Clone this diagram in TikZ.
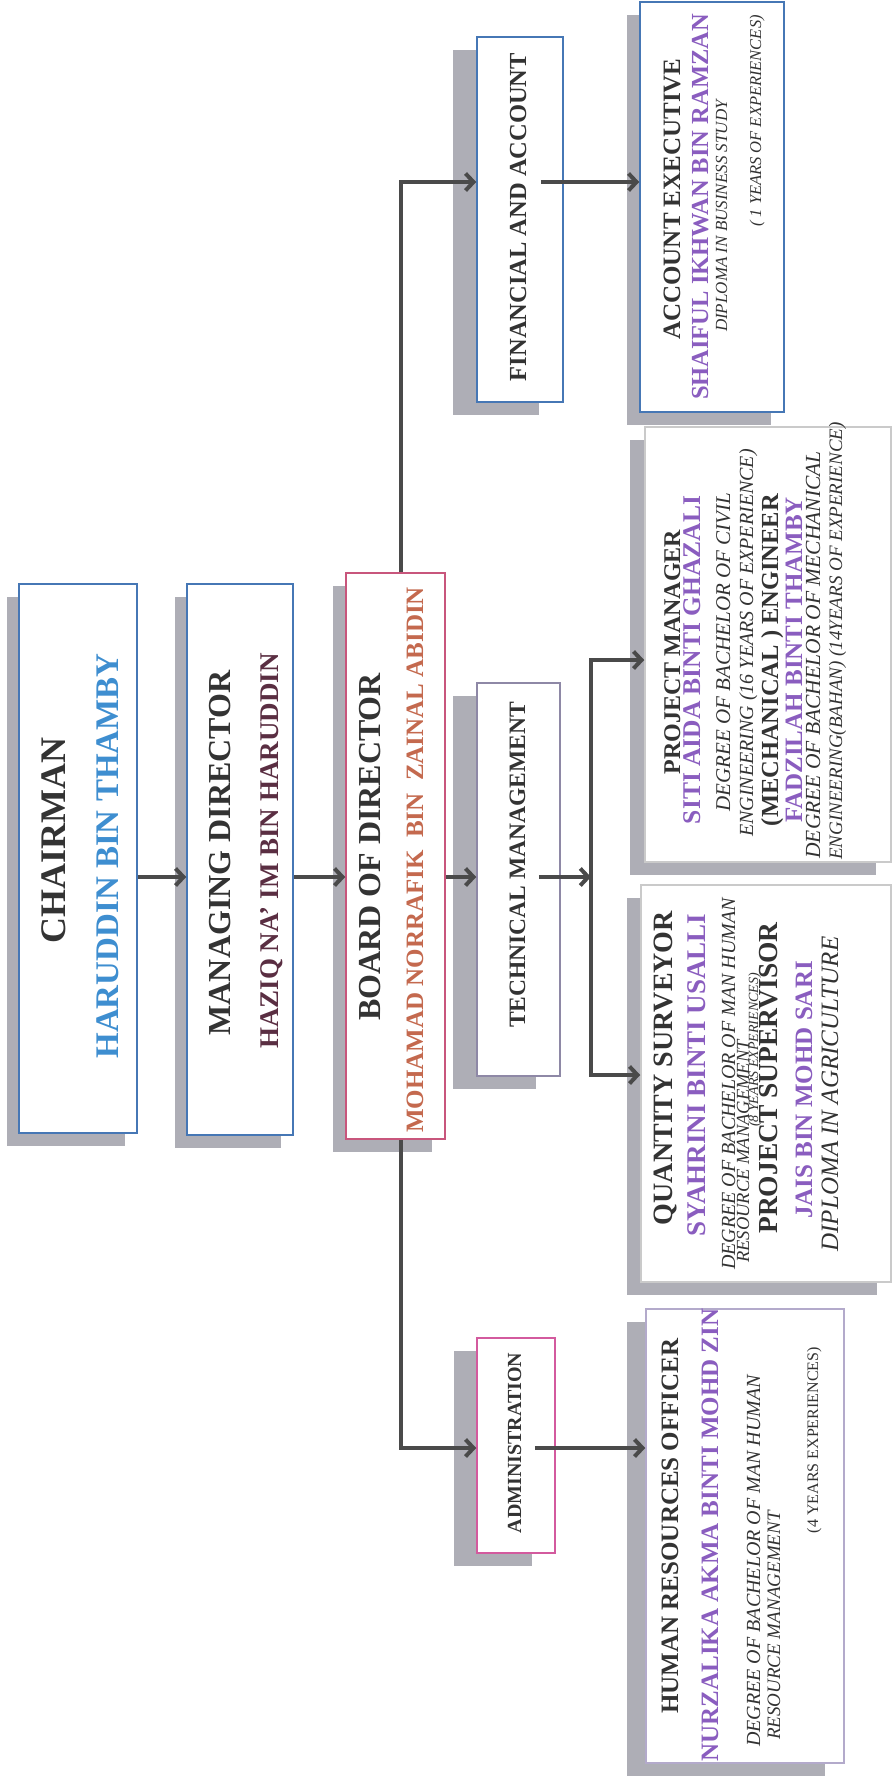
\documentclass[tikz,border=0pt]{standalone}
\usepackage{fontspec}
\setmainfont{Liberation Serif}
\usepackage{xcolor}
\usepackage{tikz}
\usetikzlibrary{arrows.meta, shadows}

\definecolor{ttl}{HTML}{333333}
\definecolor{blu}{HTML}{3E8ED0}
\definecolor{plum}{HTML}{5A2E42}
\definecolor{rust}{HTML}{C4694E}
\definecolor{purp}{HTML}{8A5DBF}
\definecolor{shd}{HTML}{AEAEB6}
\definecolor{arrg}{HTML}{4A4A4A}
\definecolor{bblue}{HTML}{4677B5}
\definecolor{bpink}{HTML}{C8567C}
\definecolor{bmag}{HTML}{D35A9E}
\definecolor{bgrey}{HTML}{8E88A6}
\definecolor{blite}{HTML}{CACACA}
\definecolor{blav}{HTML}{B3AACB}

\newcommand{\fsz}[1]{\fontsize{#1}{#1}\selectfont}

\begin{document}
\begin{tikzpicture}[x=1pt,y=-1pt,>={Straight Barb[length=8pt,width=17pt]},
    box/.style={draw=#1, line width=1.5pt, fill=white, inner sep=0pt},
    dropsh/.style={general shadow={fill=shd, shadow xshift=-#1, shadow yshift=-13pt}},
    txt/.style={rotate=90, inner sep=0pt, anchor=base, text=ttl},
    hd/.style={txt, font=\fsz{#1}\bfseries},
    it/.style={txt, font=\fsz{#1}\itshape},
    arr/.style={->, draw=arrg, line width=4pt}]
    \useasboundingbox (0,0) rectangle (893,1781);

    \node[box=bblue, dropsh=12pt, minimum width=118pt, minimum height=549pt] (chair) at (78,858.5) {};
    \node[box=bblue, dropsh=12pt, minimum width=106pt, minimum height=551pt] (md) at (240,859.5) {};
    \node[box=bpink, dropsh=13pt, minimum width=99pt, minimum height=566pt] (board) at (395.5,856) {};
    \node[box=bblue, dropsh=24pt, minimum width=86pt, minimum height=365pt] (fin) at (520,219.5) {};
    \node[box=bgrey, dropsh=24pt, minimum width=83pt, minimum height=393pt] (tech) at (518.5,879.5) {};
    \node[box=bmag, dropsh=23pt, minimum width=78pt, minimum height=215pt] (adm) at (516,1445.5) {};
    \node[box=bblue, dropsh=13pt, minimum width=144pt, minimum height=410pt] (acc) at (712,207) {};
    \node[box=blite, dropsh=15pt, minimum width=246pt, minimum height=435pt] (pm) at (768,644.5) {};
    \node[box=blite, dropsh=14pt, minimum width=250pt, minimum height=397pt] (qs) at (766,1083.5) {};
    \node[box=blav, dropsh=19pt, minimum width=198pt, minimum height=454pt] (hr) at (745,1536) {};

    \node[hd=36] (chairA) at (65,840) {CHAIRMAN};
    \node[hd=33, text=blu] (chairB) at (118,856) {HARUDDIN BIN THAMBY};
    \node[hd=32] (mdA) at (230,853) {MANAGING DIRECTOR};
    \node[hd=27, text=plum] (mdB) at (278,851) {HAZIQ NA' IM BIN HARUDDIN};
    \node[hd=32] (boardA) at (380,847) {BOARD OF DIRECTOR};
    \node[hd=25, text=rust] (boardB) at (423,860) {MOHAMAD NORRAFIK\ \ BIN\ \ ZAINAL ABIDIN};
    \node[hd=24.5] (finA) at (526,217) {FINANCIAL AND ACCOUNT};
    \node[hd=23.5] (techA) at (525,865) {TECHNICAL MANAGEMENT};
    \node[hd=20] (admA) at (521,1443) {ADMINISTRATION};

    \node[hd=25] (accA) at (680,199) {ACCOUNT EXECUTIVE};
    \node[hd=24.5, text=purp] (accB) at (708,207) {SHAIFUL IKHWAN BIN RAMZAN};
    \node[it=17] (accC) at (727,216) {DIPLOMA IN BUSINESS STUDY};
    \node[it=16.5, anchor=base east] (accD) at (761,15) {( 1 YEARS OF EXPERIENCES)};

    \node[hd=24] (pmA) at (680,652) {PROJECT MANAGER};
    \node[hd=25.5, text=purp] (pmB) at (700,660) {SITI AIDA BINTI GHAZALI};
    \node[it=21] (pmC) at (730,652) {DEGREE OF BACHELOR OF CIVIL};
    \node[it=20] (pmD) at (753,643) {ENGINEERING (16 YEARS OF EXPERIENCE)};
    \node[hd=24.5] (pmE) at (778,660) {(MECHANICAL ) ENGINEER};
    \node[hd=25, text=purp] (pmF) at (802,660) {FADZILAH BINTI THAMBY};
    \node[it=21.5] (pmG) at (820,655) {DEGREE OF BACHELOR OF MECHANICAL};
    \node[it=19] (pmH) at (842,641) {ENGINEERING(BAHAN) (14YEARS OF EXPERIENCE)};

    \node[hd=28] (qsA) at (672,1068) {QUANTITY SURVEYOR};
    \node[hd=27, text=purp] (qsB) at (705,1075) {SYAHRINI BINTI USALLI};
    \node[it=20, anchor=base west] (qsC) at (735,1270) {DEGREE OF BACHELOR OF MAN HUMAN};
    \node[it=18.5, anchor=base west] (qsD) at (749,1263) {RESOURCE MANAGEMENT};
    \node[it=14] (qsE) at (758,1050) {(8 YEARS EXPERIENCES)};
    \node[hd=27.5] (qsF) at (777,1078) {PROJECT SUPERVISOR};
    \node[hd=25, text=purp] (qsG) at (812,1090) {JAIS BIN MOHD SARI};
    \node[it=25] (qsH) at (838,1094) {DIPLOMA IN AGRICULTURE};

    \node[hd=25] (hrA) at (678,1526) {HUMAN RESOURCES OFFICER};
    \node[hd=25, text=purp] (hrB) at (718,1535) {NURZALIKA AKMA BINTI MOHD ZIN};
    \node[it=20, anchor=base west] (hrC) at (760,1747) {DEGREE OF BACHELOR OF MAN HUMAN};
    \node[it=19, anchor=base west] (hrD) at (780,1740) {RESOURCE MANAGEMENT};
    \node[txt, font=\fsz{16}, anchor=base east] (hrE) at (818,1347) {(4 YEARS EXPERIENCES)};

    \coordinate (row) at (0,877);
    \coordinate (finrow) at (0,182);
    \coordinate (admrow) at (0,1448);
    \coordinate (brT) at (591,660);
    \coordinate (brB) at (591,1075);
    \coordinate (techout) at ([xshift=-22pt]tech.east);
    \coordinate (finout) at ([xshift=-23pt]fin.east);
    \coordinate (admout) at ([xshift=-21pt]adm.east);

    \draw[arr] (chair.east |- row) -- (md.west |- row);
    \draw[arr] (md.east |- row) -- (board.west |- row);
    \draw[arr] (board.east |- row) -- (tech.west |- row);
    \draw[arr] (techout |- row) -- (brT |- row);
    \draw[arr, <->] (brT -| pm.west) -- (brT) -- (brB) -- (brB -| qs.west);
    \draw[arr] ([xshift=5pt]board.north) |- (fin.west |- finrow);
    \draw[arr] (finout |- finrow) -- (acc.west |- finrow);
    \draw[arr] ([xshift=5pt]board.south) |- (adm.west |- admrow);
    \draw[arr] (admout |- admrow) -- (hr.west |- admrow);
\end{tikzpicture}
\end{document}
